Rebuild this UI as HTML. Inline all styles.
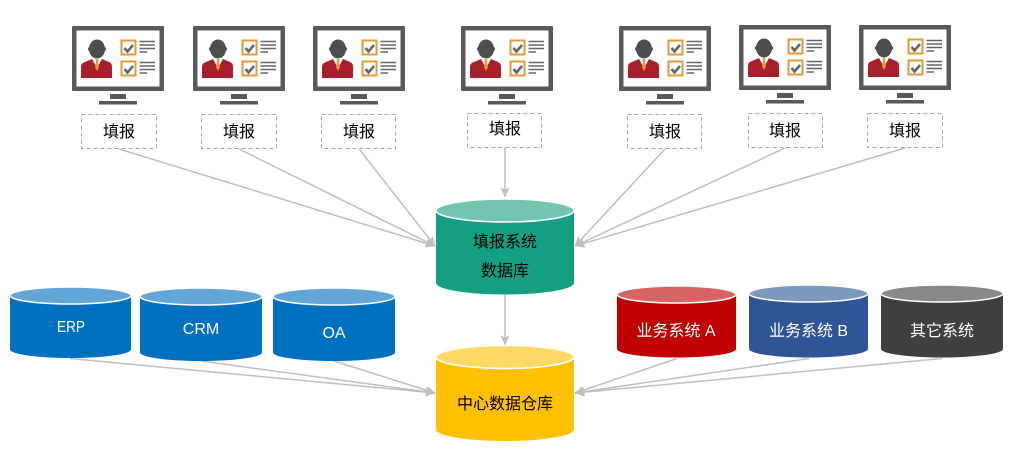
<!DOCTYPE html>
<html>
<head>
<meta charset="utf-8">
<style>
html,body{margin:0;padding:0;background:#fff;}
svg{display:block;}
text{font-family:"Liberation Sans","Noto Sans CJK SC",sans-serif;font-size:16px;text-anchor:middle;}
</style>
</head>
<body>
<svg width="1015" height="455" viewBox="0 0 1015 455" xmlns="http://www.w3.org/2000/svg">
<defs>
<g id="mon">
  <rect x="0" y="0" width="92" height="65" rx="1" fill="#595959"/>
  <rect x="4.500" y="4.500" width="83" height="56" fill="#fff"/>
  <rect x="38" y="68" width="16" height="5" fill="#595959"/>
  <rect x="27" y="75" width="38" height="3.500" fill="#595959"/>
  <path d="M9 52 V41 Q9 37 13 36 L20 33 L25 42 L30 33 L37 36 Q40 37 40 41 V52 Z" fill="#a8202c"/>
  <ellipse cx="25" cy="23" rx="8" ry="9.500" fill="#4d4d4d"/>
  <rect x="16" y="21" width="18" height="4" rx="2" fill="#4d4d4d"/>
  <path d="M21.500 33 H28.500 L25 42 Z" fill="#fff"/>
  <path d="M23.500 33 H26.500 L26 36 L27 41 L25 45 L23 41 L24 36 Z" fill="#e39a37"/>
  <rect x="49.500" y="14.500" width="14" height="14" fill="#fff" stroke="#e39a37" stroke-width="2"/>
  <rect x="49.500" y="35.500" width="14" height="14" fill="#fff" stroke="#e39a37" stroke-width="2"/>
  <path d="M52.500 22 L55.500 25.500 L61 19" fill="none" stroke="#666" stroke-width="2.600"/>
  <path d="M52.500 43 L55.500 46.500 L61 40" fill="none" stroke="#666" stroke-width="2.600"/>
  <path d="M67.500 15.500 H83 M67.500 19 H83 M67.500 22.500 H83 M67.500 26 H75 M67.500 36.500 H83 M67.500 40 H83 M67.500 43.500 H83 M67.500 47 H75" stroke="#666" stroke-width="1.500"/>
</g>
<marker id="ar" viewBox="0 0 10 10" refX="9.500" refY="5" markerWidth="10" markerHeight="10" markerUnits="userSpaceOnUse" orient="auto">
  <path d="M0 0.500 L10 5 L0 9.500 L2 5 Z" fill="#bfbfbf"/>
</marker>
</defs>

<g fill="none" stroke="#bfbfbf" stroke-width="1.500" marker-end="url(#ar)">
  <line x1="119" y1="149" x2="435" y2="246"/>
  <line x1="239" y1="149" x2="435" y2="246"/>
  <line x1="359" y1="149" x2="435" y2="246"/>
  <line x1="505" y1="147" x2="505" y2="197"/>
  <line x1="665" y1="149" x2="575" y2="246"/>
  <line x1="785" y1="148" x2="575" y2="246"/>
  <line x1="905" y1="148" x2="575" y2="246"/>
  <line x1="505" y1="295" x2="505" y2="345"/>
  <line x1="70" y1="358.500" x2="435" y2="393"/>
  <line x1="201" y1="361" x2="435" y2="393"/>
  <line x1="334" y1="361" x2="435" y2="393"/>
  <line x1="677" y1="358.500" x2="575" y2="393"/>
  <line x1="809" y1="358.500" x2="575" y2="393"/>
  <line x1="942" y1="358.500" x2="575" y2="393"/>
</g>

<use href="#mon" x="72" y="26"/>
<use href="#mon" x="193" y="26"/>
<use href="#mon" x="313" y="26"/>
<use href="#mon" x="461" y="26"/>
<use href="#mon" x="619" y="26"/>
<use href="#mon" x="739" y="25"/>
<use href="#mon" x="859" y="25"/>

<g fill="#fff" stroke="#a6a6a6" stroke-width="1" stroke-dasharray="4 3">
  <rect x="81.500" y="114.500" width="75" height="34"/>
  <rect x="201.500" y="114.500" width="75" height="34"/>
  <rect x="321.500" y="114.500" width="74" height="34"/>
  <rect x="467.500" y="113.500" width="74" height="34"/>
  <rect x="627.500" y="114.500" width="74" height="34"/>
  <rect x="748.500" y="113.500" width="74" height="34"/>
  <rect x="867.500" y="113.500" width="75" height="34"/>
</g>
<g fill="#000">
  <text x="119" y="137">填报</text>
  <text x="239" y="137">填报</text>
  <text x="359" y="137">填报</text>
  <text x="505" y="134">填报</text>
  <text x="665" y="137">填报</text>
  <text x="785" y="136">填报</text>
  <text x="905" y="136">填报</text>
</g>

<!-- green -->
<path d="M436 210.500 V283 A69 11.500 0 0 0 574 283 V210.500 Z" fill="#149e82"/>
<ellipse cx="505" cy="210.500" rx="69" ry="11.500" fill="#73c4b0" stroke="#fff" stroke-width="1.500"/>
<text x="505" y="247" fill="#000">填报系统</text>
<text x="505" y="276" fill="#000">数据库</text>

<!-- yellow -->
<path d="M436 357 V429.500 A69 11.500 0 0 0 574 429.500 V357 Z" fill="#ffc000"/>
<ellipse cx="505" cy="357" rx="69" ry="11.500" fill="#ffd966" stroke="#fff" stroke-width="1.500"/>
<text x="505" y="409" fill="#000">中心数据仓库</text>

<!-- ERP -->
<path d="M10 295.500 V349.500 A60.500 8.500 0 0 0 131 349.500 V295.500 Z" fill="#0070c0"/>
<ellipse cx="70.500" cy="295.500" rx="60.500" ry="8.500" fill="#62a6d8" stroke="#fff" stroke-width="1.500"/>
<text x="71" y="332" fill="#fff" textLength="28" lengthAdjust="spacingAndGlyphs">ERP</text>

<!-- CRM -->
<path d="M140 296.500 V352.500 A61 8.500 0 0 0 262 352.500 V296.500 Z" fill="#0070c0"/>
<ellipse cx="201" cy="296.500" rx="61" ry="8.500" fill="#62a6d8" stroke="#fff" stroke-width="1.500"/>
<text x="201" y="334" fill="#fff">CRM</text>

<!-- OA -->
<path d="M273 296.500 V352.500 A61 8.500 0 0 0 395 352.500 V296.500 Z" fill="#0070c0"/>
<ellipse cx="334" cy="296.500" rx="61" ry="8.500" fill="#62a6d8" stroke="#fff" stroke-width="1.500"/>
<text x="334" y="338" fill="#fff">OA</text>

<!-- red -->
<path d="M617 294.500 V349 A59.500 8.500 0 0 0 736 349 V294.500 Z" fill="#c00000"/>
<ellipse cx="676.500" cy="294.500" rx="59.500" ry="8.500" fill="#d66464" stroke="#fff" stroke-width="1.500"/>
<text x="676" y="336" fill="#fff">业务系统 A</text>

<!-- blue -->
<path d="M749 293.500 V349 A59.500 8.500 0 0 0 868 349 V293.500 Z" fill="#2f5597"/>
<ellipse cx="808.500" cy="293.500" rx="59.500" ry="8.500" fill="#7f98c0" stroke="#fff" stroke-width="1.500"/>
<text x="808.500" y="336" fill="#fff">业务系统 B</text>

<!-- dark -->
<path d="M881 293.500 V349 A61 8.500 0 0 0 1003 349 V293.500 Z" fill="#404040"/>
<ellipse cx="942" cy="293.500" rx="61" ry="8.500" fill="#898989" stroke="#fff" stroke-width="1.500"/>
<text x="942" y="336" fill="#fff">其它系统</text>
</svg>
</body>
</html>
